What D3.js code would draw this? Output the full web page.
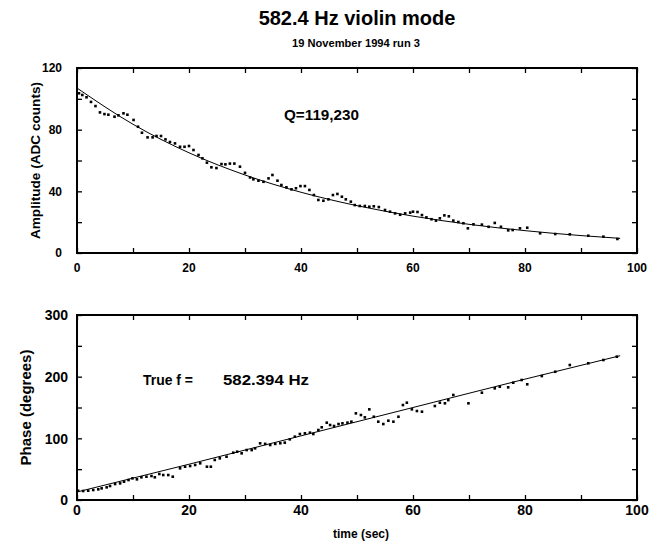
<!DOCTYPE html>
<html><head><meta charset="utf-8">
<script src="https://cdn.jsdelivr.net/npm/d3@7"></script>
<style>
body{margin:0;background:#fff;}
text{font-family:"Liberation Sans",Arial,sans-serif;font-weight:bold;fill:#000;}
</style></head>
<body><svg id="c" width="654" height="544"></svg>
<script>
const titleText = "582.4 Hz violin mode";
const subtitleText = "19 November 1994 run 3";
const xTickLabels = [0, 20, 40, 60, 80, 100];
const ampTickLabels = [0, 40, 80, 120];
const phaseTickLabels = [0, 100, 200, 300];

const ampT = [0.36,0.95,1.7,2.5,3.3,4.1,4.9,5.6,6.7,7.4,8.3,9.0,10.1,10.9,11.6,12.6,13.5,14.2,15.0,15.8,16.6,17.5,18.4,19.2,20.0,20.8,21.7,22.4,23.2,24.0,24.9,25.8,26.5,27.3,28.1,29.1,30,30.9,31.5,32.4,33.3,34.2,34.9,35.8,36.5,37.4,38.3,39.1,39.9,40.7,41.5,42.3,43.1,44,44.9,45.7,46.5,47.3,48,48.9,49.6,50.5,51.4,52.2,53,53.9,55,55.9,56.8,57.7,58.6,59.5,60,60.8,61.6,62.4,63.3,64.1,64.8,65.6,66.4,67.2,68.1,69,69.8,70.8,72.3,73.5,74.6,75.7,77,77.8,79.1,80.4,82.7,85.4,88,91.3,94,96.5];
const ampA = [103.6,102.5,101,98,95.3,91.2,90.1,89.7,88.4,89.3,90.6,89.7,86.3,81.9,78,75,75,75.9,75.9,73.7,72,71.1,68.9,68.9,69.4,66.8,63.6,61.4,58.6,55.6,55.1,57.7,57.5,58,58,56,52,49,47.8,46.9,46.2,48.4,50.6,46.9,44.1,42.6,41.3,42,43.4,43.4,40.9,37.6,34.4,33.9,34.8,37.6,38.3,36.5,34.8,33.3,31.1,30.5,30.5,30,30.3,29.8,27.9,26.8,25.7,24.8,25.7,26.2,26.8,26.6,24.6,23.1,21.9,21,22.5,24.4,23.8,21,20.1,19.3,16,18.6,18.4,17,19.5,17,14.7,14.9,16,16.4,12.8,12.3,12.1,11.2,10.6,9.1];

const ampFitT = [0,10,20,30,40,50,60,70,80,90,97];
const ampFitA = [107,83.5,65,50.6,39.4,30.7,23.9,18.6,14.5,11.3,9.5];

const phT = [0.2,1.1,2.0,2.9,3.8,4.4,5.3,5.9,6.8,7.7,8.4,9.2,9.9,10.7,11.5,12.4,13.3,13.9,14.7,15.4,16.3,17.1,18.4,19.3,20.2,21.1,22,23.2,23.9,24.6,25.5,26.7,27.9,28.6,29.4,30.3,31.2,31.8,32.7,33.6,34.5,35.4,36.3,37.1,38,38.9,39.8,40.7,41.6,42.2,43.1,43.7,44.6,45.2,45.9,46.7,47.4,48.3,49,49.8,50.7,51.4,52.2,53,53.8,54.7,55.6,56.5,57.4,58.2,58.9,59.8,60.7,61.6,63.9,64.8,65.7,66.3,67.2,69.9,72.3,74.6,75.5,77,77.9,79.4,80.4,83,85.4,88,91.3,94,96.4];
const phP = [15,14.6,15.1,16.2,17.3,18.9,20.5,22.7,25.9,27,29.7,32.4,35.1,33.5,36.8,37.8,38.9,36.8,42.2,40.5,40.5,37.8,51.4,54,55.1,56.8,59.5,54,54,64.9,67.6,70.2,76.7,78.3,75.7,81,81,83.8,91.9,91,89.2,91,92,93,98.4,102.7,107,108.1,109.2,107,113.5,117.9,125.4,121.6,120,123.2,124.3,125.4,127,140.5,137.8,134,147,135,127,123.2,128.6,127,135,154,157.8,147,144.3,143.2,152.4,157.8,156.8,162,170.3,156.8,174,181.1,183.7,182.7,190.2,194.6,187.6,201,208,218.9,221.7,227,232.4];

const phFitT = [0,20,40,60,80,97];
const phFitP = [13,58,104,150,196,234];

const svg = d3.select("#c");
const X0 = 77, X1 = 637;

svg.append("text").attr("x", 357).attr("y", 25).attr("text-anchor","middle")
  .style("font-size","20px").text(titleText);
svg.append("text").attr("x", 292).attr("y", 47)
  .style("font-size","11px").attr("textLength",128).attr("lengthAdjust","spacingAndGlyphs").text(subtitleText);

function panel(o) {
  const {top, bottom, yMax, yStep, yLabels, ts, vs, fitT, fitV, ylabel, ylabelX, ylabelSize, tickSize, xlabY, ylabGap} = o;
  const x = d3.scaleLinear().domain([0,100]).range([X0, X1]);
  const y = d3.scaleLinear().domain([0,yMax]).range([bottom, top]);
  const g = svg.append("g");
  const xt = d3.range(0, 101, 10), yt = d3.range(0, yMax+0.001, yStep);
  g.append("g").attr("transform",`translate(0,${bottom})`)
    .call(d3.axisBottom(x).tickValues(xt).tickSizeInner(-5).tickSizeOuter(0).tickFormat(""))
    .call(a=>a.select(".domain").remove());
  g.append("g").attr("transform",`translate(0,${top})`)
    .call(d3.axisTop(x).tickValues(xt).tickSizeInner(-5).tickSizeOuter(0).tickFormat(""))
    .call(a=>a.select(".domain").remove());
  g.append("g").attr("transform",`translate(${X0},0)`)
    .call(d3.axisLeft(y).tickValues(yt).tickSizeInner(-5).tickSizeOuter(0).tickFormat(""))
    .call(a=>a.select(".domain").remove());
  g.append("g").attr("transform",`translate(${X1},0)`)
    .call(d3.axisRight(y).tickValues(yt).tickSizeInner(-5).tickSizeOuter(0).tickFormat(""))
    .call(a=>a.select(".domain").remove());
  g.selectAll(".tick line").attr("stroke","#000").attr("stroke-width",1.3);
  g.selectAll(".xl").data(xTickLabels).join("text").attr("x", d=>x(d)).attr("y", xlabY)
    .attr("text-anchor","middle").style("font-size",tickSize+"px").text(d=>d);
  g.selectAll(".yl").data(yLabels).join("text").attr("x", X0-ylabGap).attr("y", d=>y(d)+tickSize*0.37)
    .attr("text-anchor","end").style("font-size",tickSize+"px").text(d=>d);
  g.append("text").attr("transform",`translate(${ylabelX},${(top+bottom)/2}) rotate(-90)`)
    .attr("text-anchor","middle").style("font-size",ylabelSize+"px").text(ylabel);
  const line = d3.line().x(d=>x(d[0])).y(d=>y(d[1])).curve(d3.curveMonotoneX);
  g.append("path").datum(fitT.map((t,i)=>[t,fitV[i]])).attr("d", line)
    .attr("fill","none").attr("stroke","#000").attr("stroke-width",1);
  g.selectAll(".pt").data(ts.map((t,i)=>[t,vs[i]])).join("rect")
    .attr("x", d=>x(d[0])-1.3).attr("y", d=>y(d[1])-1.3).attr("width",2.6).attr("height",2.6).attr("fill","#000");
  g.append("rect").attr("x",X0).attr("y",top).attr("width",X1-X0).attr("height",bottom-top)
    .attr("fill","none").attr("stroke","#000").attr("stroke-width",2);
}

panel({top:68, bottom:253, yMax:120, yStep:20, yLabels:ampTickLabels, ts:ampT, vs:ampA,
  fitT:ampFitT, fitV:ampFitA, ylabel:"Amplitude (ADC counts)", ylabelX:40, ylabelSize:13.6,
  tickSize:12, xlabY:272, ylabGap:15});
panel({top:315, bottom:500, yMax:300, yStep:50, yLabels:phaseTickLabels, ts:phT, vs:phP,
  fitT:phFitT, fitV:phFitP, ylabel:"Phase (degrees)", ylabelX:31, ylabelSize:15,
  tickSize:14, xlabY:515, ylabGap:9});

svg.append("text").attr("x", 284).attr("y", 120).style("font-size","14px")
  .attr("textLength", 75).attr("lengthAdjust","spacingAndGlyphs").text("Q=119,230");
svg.append("text").attr("x", 143).attr("y", 385).style("font-size","14px")
  .attr("textLength", 50).attr("lengthAdjust","spacingAndGlyphs").text("True f =");
svg.append("text").attr("x", 223).attr("y", 385).style("font-size","14px")
  .attr("textLength", 86).attr("lengthAdjust","spacingAndGlyphs").text("582.394 Hz");
svg.append("text").attr("x", 361).attr("y", 538).attr("text-anchor","middle").style("font-size","12px").text("time (sec)");
</script></body></html>
